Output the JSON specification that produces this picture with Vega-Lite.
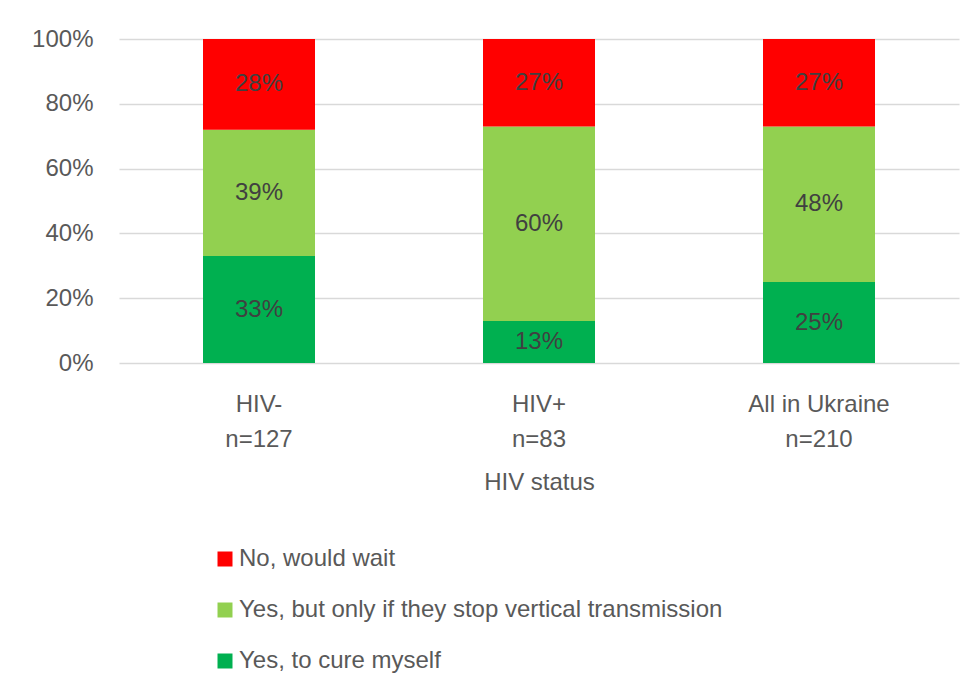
{
  "$schema": "https://vega.github.io/schema/vega-lite/v6.json",
  "width": 840,
  "height": 324,
  "autosize": {"type": "none"},
  "padding": {"left": 119, "top": 39, "right": 17, "bottom": 330},
  "background": "white",
  "config": {
    "view": {"stroke": null},
    "font": "Liberation Sans",
    "axis": {"labelFont": "Liberation Sans", "titleFont": "Liberation Sans"},
    "legend": {"labelFont": "Liberation Sans"}
  },
  "data": {
    "values": [
      {"group": "HIV-|n=127", "response": "Yes, to cure myself", "share": 0.33},
      {"group": "HIV-|n=127", "response": "Yes, but only if they stop vertical transmission", "share": 0.39},
      {"group": "HIV-|n=127", "response": "No, would wait", "share": 0.28},
      {"group": "HIV+|n=83", "response": "Yes, to cure myself", "share": 0.13},
      {"group": "HIV+|n=83", "response": "Yes, but only if they stop vertical transmission", "share": 0.60},
      {"group": "HIV+|n=83", "response": "No, would wait", "share": 0.27},
      {"group": "All in Ukraine|n=210", "response": "Yes, to cure myself", "share": 0.25},
      {"group": "All in Ukraine|n=210", "response": "Yes, but only if they stop vertical transmission", "share": 0.48},
      {"group": "All in Ukraine|n=210", "response": "No, would wait", "share": 0.27}
    ]
  },
  "transform": [
    {"stack": "share", "groupby": ["group"], "sort": [{"field": "response", "order": "descending"}], "as": ["s0", "s1"]},
    {"calculate": "(datum.s0 + datum.s1) / 2", "as": "smid"}
  ],
  "encoding": {
    "x": {
      "field": "group",
      "type": "nominal",
      "sort": ["HIV-|n=127", "HIV+|n=83", "All in Ukraine|n=210"],
      "scale": {"paddingInner": 0.6, "paddingOuter": 0.3},
      "axis": {
        "title": "HIV status",
        "titleFontSize": 24,
        "titleFontWeight": "normal",
        "titleColor": "#595959",
        "titlePadding": 19,
        "labelAngle": 0,
        "labelExpr": "split(datum.value, '|')",
        "labelFontSize": 24,
        "labelLineHeight": 35,
        "labelColor": "#595959",
        "labelPadding": 29,
        "ticks": false,
        "domain": false
      }
    }
  },
  "layer": [
    {
      "mark": {"type": "bar"},
      "encoding": {
        "y": {
          "field": "s0",
          "type": "quantitative",
          "scale": {"domain": [0, 1], "nice": false},
          "axis": {
            "title": null,
            "format": ".0%",
            "values": [0, 0.2, 0.4, 0.6, 0.8, 1],
            "labelFontSize": 24,
            "labelColor": "#595959",
            "labelPadding": 26,
            "ticks": false,
            "domain": false,
            "grid": true,
            "gridColor": "#D9D9D9",
            "gridWidth": 1.5
          }
        },
        "y2": {"field": "s1"},
        "color": {
          "field": "response",
          "type": "nominal",
          "scale": {
            "domain": ["No, would wait", "Yes, but only if they stop vertical transmission", "Yes, to cure myself"],
            "range": ["#FF0000", "#92D050", "#00B050"]
          },
          "legend": {
            "title": null,
            "orient": "none",
            "legendX": 94,
            "legendY": 508,
            "direction": "vertical",
            "symbolType": "square",
            "symbolSize": 225,
            "symbolStrokeWidth": 0,
            "symbolOpacity": 1,
            "labelFontSize": 24,
            "labelColor": "#595959",
            "labelOffset": 2,
            "rowPadding": 27,
            "labelLimit": 700
          }
        }
      }
    },
    {
      "mark": {"type": "text", "fontSize": 24, "color": "#404040", "baseline": "middle"},
      "encoding": {
        "y": {"field": "smid", "type": "quantitative"},
        "text": {"field": "share", "type": "quantitative", "format": ".0%"}
      }
    }
  ]
}
